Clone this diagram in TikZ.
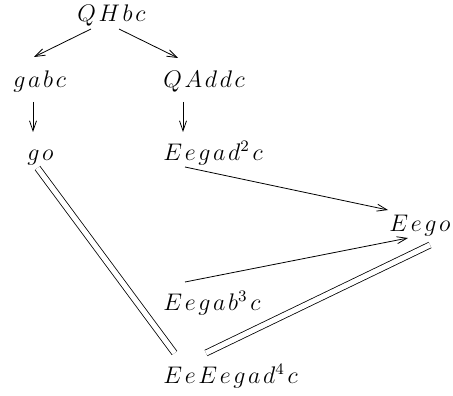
\documentclass[tikz,border=0pt]{standalone}
\usetikzlibrary{arrows.meta}
\newcommand{\lsp}{\mkern2mu}
\begin{document}
\begin{tikzpicture}[x=0.5pt,y=-0.5pt,
    font=\fontsize{12}{14}\selectfont,
    lbl/.style={inner sep=0pt,anchor=base west},
    arr/.style={thin,-{Straight Barb[length=5pt,width=3.5pt]}},
    eq/.style={thin,double,double distance=2.6pt}]
  \useasboundingbox (0,0) rectangle (453,395);

  \node[lbl] (QHbc) at (77,22) {$Q\lsp H\lsp b\lsp c$};
  \node[lbl] (gabc) at (13,88) {$g\lsp a\lsp b\lsp c$};
  \node[lbl] (QAddc) at (163,88) {$Q\lsp A\lsp d\lsp d\lsp c$};
  \node[lbl] (go) at (27,160) {$g\lsp o$};
  \node[lbl] (Eegad) at (163,160) {$E\lsp e\lsp g\lsp a\lsp d^2\lsp c$};
  \node[lbl] (Eego) at (389,231) {$E\lsp e\lsp g\lsp o$};
  \node[lbl] (Eegab) at (163,310) {$E\lsp e\lsp g\lsp a\lsp b^3\lsp c$};
  \node[lbl] (EeEegad) at (163,383) {$E\lsp e\lsp E\lsp e\lsp g\lsp a\lsp d^4\lsp c$};

  \draw[arr] ([shift={(14,7)}]QHbc.base west) -- ([shift={(21,-31)}]gabc.base west);
  \draw[arr] ([shift={(42,7)}]QHbc.base west) -- ([shift={(15,-30)}]QAddc.base west);
  \draw[arr] ([shift={(20,14)}]gabc.base west) -- ([shift={(6,-28)}]go.base west);
  \draw[arr] ([shift={(20,14)}]QAddc.base west) -- ([shift={(20,-28)}]Eegad.base west);
  \draw[arr] ([shift={(22,7)}]Eegad.base west) -- ([shift={(-1,-21)}]Eego.base west);
  \draw[arr] ([shift={(22,-28)}]Eegab.base west) -- ([shift={(19,7)}]Eego.base west);

  \draw[eq] ([shift={(10.5,8)}]go.base west) -- ([shift={(11.5,-30)}]EeEegad.base west);
  \draw[eq] ([shift={(43,-30)}]EeEegad.base west) -- ([shift={(41,14)}]Eego.base west);
\end{tikzpicture}
\end{document}
